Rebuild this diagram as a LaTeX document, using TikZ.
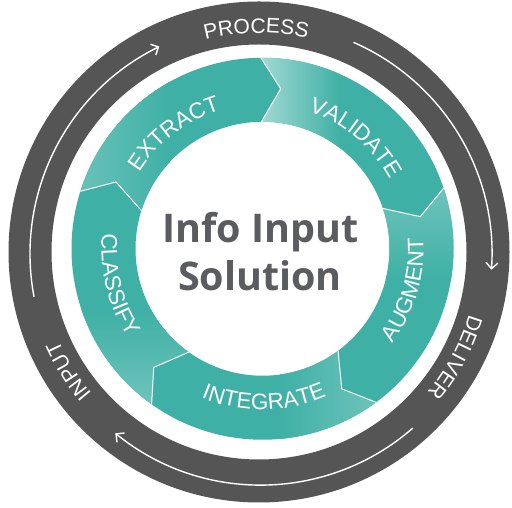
\documentclass[tikz,border=0pt]{standalone}
\usepackage{fontspec}
\setmainfont{Liberation Sans}
\newfontfamily\titlefont{Open Sans}
\usetikzlibrary{decorations.text,arrows.meta}
\definecolor{ringgray}{RGB}{85,85,85}
\definecolor{tealmain}{RGB}{63,176,165}
\definecolor{teallight}{RGB}{112,197,189}
\definecolor{tealpale}{RGB}{168,220,214}
\definecolor{titlegray}{RGB}{91,92,96}
\newcommand\segshape[1]{(#1:191) arc[start angle=#1, end angle={#1-72}, radius=191] -- ({#1-79}:161) -- ({#1-72}:127) arc[start angle={#1-72}, end angle=#1, radius=127] -- ({#1-7}:161) -- cycle}
\begin{document}
\begin{tikzpicture}[x=1pt,y=1pt,
  seglabel/.style={decorate, decoration={text along path, text align=center, text color=white, text={|\fontsize{22.5}{22.5}\selectfont|#1}}},
  ringlabel/.style={decorate, decoration={text along path, text align=center, text color=white, text={|\fontsize{21}{21}\selectfont|#1}}},
  segline/.style={draw=white, line width=1pt, line join=miter},
  flowarrow/.style={draw=white, line width=1.4pt, -{Straight Barb[length=6pt,width=12pt,line width=1.4pt]}},
  titlestyle/.style={font=\titlefont\bfseries\fontsize{39.5}{39.5}\selectfont, text=titlegray, inner sep=0pt, anchor=base}]
\useasboundingbox (0,0) rectangle (512,508);
\fill[white] (0,0) rectangle (512,508);
% outer dark ring
\fill[ringgray, even odd rule] (259,256) circle[radius=250.5] (259,256) circle[radius=207.5];
% white flow arrows
\begin{scope}[shift={(261,254)}]
  \draw[flowarrow] (190.7:231) arc[start angle=190.7, end angle=116.1, radius=231];
  \draw[flowarrow] (66.4:231) arc[start angle=66.4, end angle=-3.9, radius=231];
  \draw[flowarrow] (-48.9:231) arc[start angle=-48.9, end angle=-129.1, radius=231];
\end{scope}
% ring labels
\begin{scope}[shift={(259,256)}]
  \path[ringlabel=PROCESS] (130.7:219) arc[start angle=130.7, end angle=50.7, radius=219];
  \path[ringlabel=DELIVER] (11.8:219) arc[start angle=11.8, end angle=-68.2, radius=219];
  \path[ringlabel=INPUT] (252:219) arc[start angle=252, end angle=172, radius=219];
\end{scope}
% teal segments
\begin{scope}[shift={(262.5,259.25)}]
  \foreach \a in {90.5,18.5,-53.5,-125.5,162.5} {\fill[tealmain] \segshape{\a};}
  % VALIDATE
  \begin{scope}\clip \segshape{90.5};
    \shade[left color=tealpale, right color=tealmain] (-8,0) rectangle (78,200);
  \end{scope}
  % AUGMENT
  \begin{scope}\clip \segshape{18.5};
    \shade[top color=teallight, bottom color=tealmain] (60,-31) rectangle (200,66);
  \end{scope}
  % INTEGRATE
  \begin{scope}\clip \segshape{-53.5};
    \shade[left color=tealmain, right color=teallight] (17.5,-200) rectangle (120,-60);
  \end{scope}
  % CLASSIFY
  \begin{scope}\clip \segshape{-125.5};
    \shade[top color=tealmain, bottom color=teallight] (-200,-160) rectangle (-40,-61);
  \end{scope}
  % EXTRACT
  \begin{scope}\clip \segshape{162.5};
    \shade[left color=teallight, right color=tealmain] (-200,30) rectangle (-92,200);
  \end{scope}
  \foreach \a in {90.5,18.5,-53.5,-125.5,162.5} {\draw[segline] (\a:191) -- ({\a-7}:161) -- (\a:127);}
  % segment labels
  \path[seglabel=VALIDATE] (90:145) arc[start angle=90, end angle=10, radius=145];
  \path[seglabel=EXTRACT] (167.5:145) arc[start angle=167.5, end angle=87.5, radius=145];
  \path[seglabel=AUGMENT] (-56:161) arc[start angle=-56, end angle=24, radius=161];
  \path[seglabel=INTEGRATE] (-129.5:161) arc[start angle=-129.5, end angle=-49.5, radius=161];
  \path[seglabel=CLASSIFY] (154:161) arc[start angle=154, end angle=234, radius=161];
\end{scope}
% centre title
\node[titlestyle] (title1) at (260.5,265) {Info Input};
\node[titlestyle] (title2) at (260,217) {Solution};
\end{tikzpicture}
\end{document}
